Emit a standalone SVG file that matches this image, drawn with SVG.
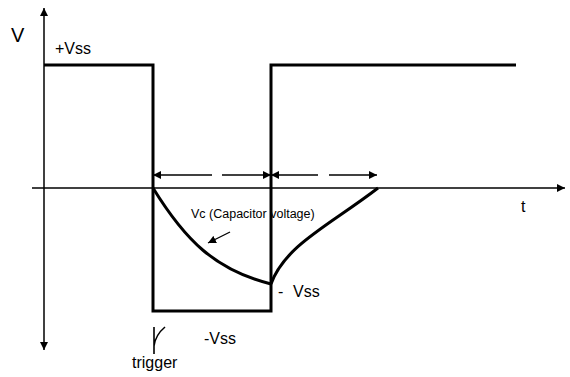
<svg xmlns="http://www.w3.org/2000/svg" width="570" height="377" viewBox="0 0 570 377">
<defs>
<marker id="ah" viewBox="0 0 10 10" refX="10" refY="5" markerWidth="8" markerHeight="8" markerUnits="userSpaceOnUse" orient="auto-start-reverse"><path d="M0,0 L10,5 L0,10 z" fill="#000"/></marker>
</defs>
<style>
text{font-family:"Liberation Sans",Arial,sans-serif;fill:#000}
.ax{stroke:#000;stroke-width:1.5;fill:none}
.thick{stroke:#000;stroke-width:3;fill:none}
.thin{stroke:#000;stroke-width:1.3;fill:none}
</style>
<rect width="570" height="377" fill="#fff"/>
<g id="axes">
<line class="ax" x1="44" y1="188" x2="44" y2="8" marker-end="url(#ah)"/>
<line class="ax" x1="44" y1="188" x2="44" y2="350" marker-end="url(#ah)"/>
<line class="ax" x1="32" y1="188" x2="565" y2="188" marker-end="url(#ah)"/>
</g>
<g id="pulse">
<polyline class="thick" points="44,65 153,65 153,311 271,311 271,65 516,65"/>
</g>
<g id="capacitor-curve">
<path class="thick" d="M153,188 C185,240 215,270 271,284"/>
<path class="thick" d="M271,284 C285,245 330,225 378,188"/>
</g>
<g id="connectors">
<line class="thin" x1="153" y1="175" x2="212" y2="175" marker-start="url(#ah)"/>
<line class="thin" x1="222" y1="175" x2="271" y2="175" marker-end="url(#ah)"/>
<line class="thin" x1="271" y1="175" x2="318" y2="175" marker-start="url(#ah)"/>
<line class="thin" x1="329" y1="175" x2="377" y2="175" marker-end="url(#ah)"/>
<line class="thin" x1="230" y1="232" x2="208" y2="243" marker-end="url(#ah)"/>
<path d="M154,354 L154,327 M154,346 C155,338 159,332 165,327" stroke="#000" stroke-width="1.6" fill="none"/>
</g>
<g id="labels">
<text x="11" y="42" font-size="20">V</text>
<text x="55" y="54" font-size="16">+Vss</text>
<text x="521" y="212" font-size="16">t</text>
<text x="191" y="218" font-size="12.5">Vc (Capacitor voltage)</text>
<text x="278" y="297" font-size="16">-</text>
<text x="293" y="297" font-size="16">Vss</text>
<text x="204" y="344" font-size="16">-Vss</text>
<text x="132" y="368" font-size="16">trigger</text>
</g>
</svg>
